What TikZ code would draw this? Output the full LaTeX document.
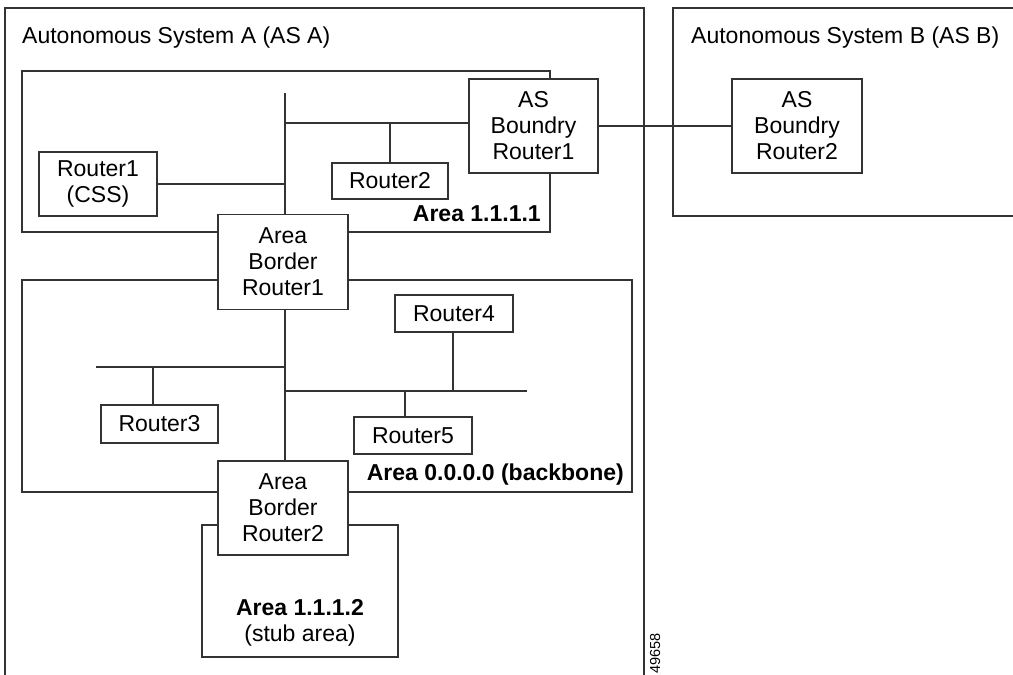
\documentclass[tikz,border=0pt]{standalone}
\usepackage{fontspec}
\setmainfont{Liberation Sans}
\tikzset{
  ln/.style={line width=1.1pt, draw=black!80},
  box/.style={ln, fill=white, align=center, inner sep=0pt, font=\fontsize{23}{26}\selectfont},
  lbl/.style={inner sep=0pt, font=\fontsize{23}{26}\selectfont},
  blbl/.style={inner sep=0pt, font=\fontsize{23}{26}\selectfont\bfseries},
}
\begin{document}
\begin{tikzpicture}[x=1pt, y=-1pt]
\useasboundingbox (0,0) rectangle (1013,675);
% autonomous systems
\draw[ln] (5,675) -- (5,8) -- (644,8) -- (644,675);
\draw[ln] (1013,8) -- (673,8) -- (673,216) -- (1013,216);
\node[lbl, anchor=base west] (tA) at (22,43) {Autonomous System A (AS A)};
\node[lbl, anchor=base west] (tB) at (691,43) {Autonomous System B (AS B)};
% areas
\draw[ln] (22,71) rectangle (550,232);
\draw[ln] (22,280) rectangle (632,492);
\draw[ln] (202,525) rectangle (398,657);
% coordinates for bus lines
\coordinate (bt) at (285,93);
\coordinate (j1) at (285,123);
\coordinate (b3l) at (96,367);
\coordinate (d3) at (153,367);
\coordinate (b2l) at (285,391);
\coordinate (b2r) at (527,391);
\coordinate (d4) at (453,391);
\coordinate (d5) at (405,391);
% routers
\node[box, minimum width=118pt, minimum height=64pt] (R1) at (98,184) {Router1\\(CSS)};
\node[box, minimum width=116pt, minimum height=36pt] (R2) at (390,181) {Router2};
\node[box, minimum width=129pt, minimum height=94pt] (ASBR1) at (533.5,126) {AS\\Boundry\\Router1};
\node[box, minimum width=130pt, minimum height=94pt] (ASBR2) at (797,126) {AS\\Boundry\\Router2};
\node[box, minimum width=130pt, minimum height=95pt] (ABR1) at (283,262) {Area\\Border\\Router1};
\node[box, minimum width=117pt, minimum height=38pt] (R3) at (159.5,424) {Router3};
\node[box, minimum width=118pt, minimum height=37pt] (R4) at (454,313.5) {Router4};
\node[box, minimum width=118pt, minimum height=37pt] (R5) at (413,435.5) {Router5};
\node[box, minimum width=130pt, minimum height=94pt] (ABR2) at (283,508) {Area\\Border\\Router2};
% connectors
\draw[ln] (bt) -- (bt |- ABR1.north);
\draw[ln] (j1) -- (j1 -| ASBR1.west);
\draw[ln] (R2.north) -- (R2.north |- j1);
\draw[ln] (R1.east) -- (R1.east -| bt);
\draw[ln] (ASBR1.east) -- (ASBR2.west);
\draw[ln] (bt |- ABR1.south) -- (bt |- ABR2.north);
\draw[ln] (b3l) -- (b3l -| bt);
\draw[ln] (d3) -- (d3 |- R3.north);
\draw[ln] (b2l) -- (b2r);
\draw[ln] (d4) -- (d4 |- R4.south);
\draw[ln] (d5) -- (d5 |- R5.north);
% area labels
\node[blbl, anchor=base east] (a1) at (541,221) {Area 1.1.1.1};
\node[blbl, anchor=base east] (a0) at (624,480) {Area 0.0.0.0 (backbone)};
\node[blbl, anchor=base] (a2) at (300,615) {Area 1.1.1.2};
\node[lbl, anchor=base] (a2s) at (300,641) {(stub area)};
\node[inner sep=0pt, font=\fontsize{14.5}{16}\selectfont, rotate=90, anchor=base west] (fig) at (660,674) {49658};
\end{tikzpicture}
\end{document}
